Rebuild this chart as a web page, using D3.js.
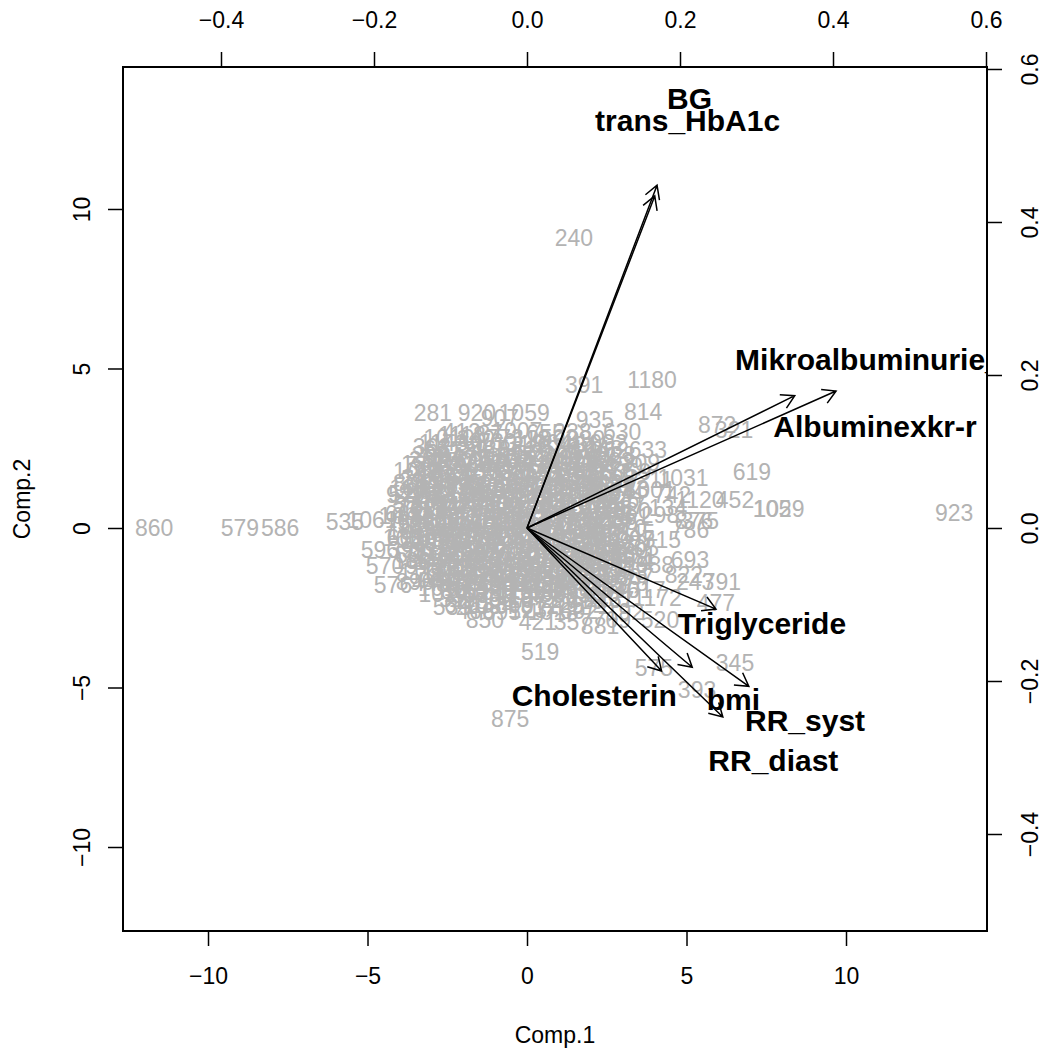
<!DOCTYPE html>
<html>
<head>
<meta charset="utf-8">
<script src="https://cdn.jsdelivr.net/npm/d3@7"></script>
<style>
    body { margin: 0; background: #fff; }
    svg { display: block; font-family: "Liberation Sans", Arial, Helvetica, sans-serif; }
</style>
</head>
<body>
<script>
// PCA biplot ~ scores (gray ids) + loadings (arrows)

// tick values for the two coordinate systems:
var scoreTicks = [-10, -5, 0, 5, 10];
var loadTicks = [-0.4, -0.2, 0.0, 0.2, 0.4, 0.6];

// variables -> arrow tips + label spots (loading units):
var varNames = ["BG", "trans_HbA1c", "Mikroalbuminurie_ja", "Albuminexkr-r", "Triglyceride",
                "Cholesterin", "bmi", "RR_syst", "RR_diast"];
var arrowX = [0.170, 0.167, 0.404, 0.350, 0.247, 0.176, 0.216, 0.290, 0.256];
var arrowY = [0.448, 0.434, 0.179, 0.173, -0.106, -0.187, -0.182, -0.207, -0.247];
var labelX = [0.183, 0.089, 0.272, 0.322, 0.197, -0.020, 0.235, 0.285, 0.237];
var labelY = [0.562, 0.533, 0.221, 0.133, -0.125, -0.218, -0.224, -0.251, -0.303];

// readable scores: [id, Comp.1, Comp.2]
var outerScores = [
    [860, -11.69, 0.00], [579, -9.00, 0.00], [586, -7.74, 0.00], [535, -5.71, 0.19],
    [1061, -4.86, 0.25], [661, -3.86, 0.44], [160, -3.92, -0.31], [596, -4.61, -0.69],
    [570, -4.45, -1.19], [576, -4.20, -1.79], [890, -3.51, -1.69], [941, -3.82, 1.03],
    [293, -3.42, 1.47], [185, -3.35, 2.01], [362, -2.98, 2.54], [1118, -2.04, 2.92],
    [281, -2.95, 3.61], [920, -1.57, 3.61], [1059, -0.09, 3.61], [907, -0.85, 3.45],
    [935, 2.13, 3.39], [630, 2.98, 3.01], [814, 3.64, 3.64], [391, 1.79, 4.48],
    [1180, 3.92, 4.64], [240, 1.47, 9.09], [633, 3.79, 2.45], [872, 5.96, 3.23],
    [321, 6.49, 3.07], [619, 7.05, 1.76], [1031, 4.89, 1.57], [211, 4.01, 1.50],
    [1120, 5.42, 0.88], [452, 6.52, 0.88], [105, 7.68, 0.60], [1029, 7.90, 0.60],
    [923, 13.39, 0.47], [876, 5.24, 0.22], [375, 5.42, 0.22], [742, 4.55, 1.03],
    [134, 4.42, 0.63], [298, 4.17, 0.41], [515, 4.23, -0.38], [693, 5.11, -1.00],
    [822, 4.92, -1.47], [243, 5.27, -1.69], [791, 6.11, -1.69], [1172, 4.08, -2.19],
    [477, 5.92, -2.35], [520, 4.17, -2.88], [881, 2.29, -3.07], [421, 0.34, -2.95],
    [850, -1.32, -2.88], [539, -2.35, -2.48], [519, 0.41, -3.89], [575, 3.98, -4.39],
    [345, 6.52, -4.23], [393, 5.33, -5.08], [875, -0.53, -5.99], [705, 3.54, -0.63],
    [116, 3.23, -1.16], [988, 4.01, -1.16], [1017, 3.54, -1.94], [467, 2.76, -2.26],
    [192, 3.07, -2.63], [709, 2.66, -2.88], [357, 1.44, -2.95], [209, 3.57, 2.04],
    [962, 2.60, 2.45], [1001, 3.86, 1.19], [786, 5.11, -0.06]
];

// the dense middle of the cloud (ids unreadable there, positions estimated):
var coreScores = [
    [412, -2.05, 3.02], [87, -1.15, 2.96], [1007, -0.32, 3.05], [655, 0.58, 2.99], [238, 1.42, 3.03],
    [1143, -2.62, 2.66], [59, -1.78, 2.62], [730, -0.93, 2.69], [318, -0.08, 2.63], [964, 0.81, 2.67],
    [481, 1.66, 2.61], [1092, 2.35, 2.68],
    [205, -3.02, 2.31], [847, -2.18, 2.27], [36, -1.41, 2.33], [1115, -0.52, 2.28], [672, 0.27, 2.32],
    [390, 1.12, 2.26], [549, 1.93, 2.31], [1028, 2.61, 2.29],
    [777, -3.25, 1.97], [130, -2.47, 1.93], [968, -1.69, 1.98], [422, -0.83, 1.92], [1066, 0.02, 1.96],
    [287, 0.88, 1.94], [613, 1.62, 1.99], [94, 2.38, 1.93], [859, 3.04, 1.96],
    [346, -3.33, 1.58], [1004, -2.61, 1.62], [523, -1.87, 1.57], [71, -1.08, 1.63], [905, -0.27, 1.59],
    [444, 0.51, 1.61], [1159, 1.29, 1.58], [260, 2.07, 1.62], [698, 2.83, 1.57],
    [1082, -3.52, 1.27], [177, -2.77, 1.23], [639, -2.03, 1.28], [955, -1.27, 1.22], [302, -0.48, 1.26],
    [817, 0.29, 1.24], [25, 1.03, 1.27], [566, 1.78, 1.22], [1121, 2.57, 1.26], [483, 3.22, 1.23],
    [713, -3.41, 0.88], [64, -2.58, 0.93], [991, -1.82, 0.87], [350, -0.98, 0.92], [804, -0.19, 0.89],
    [152, 0.62, 0.91], [1047, 1.38, 0.87], [507, 2.18, 0.93], [926, 2.93, 0.89],
    [268, -3.63, 0.57], [1135, -2.88, 0.53], [598, -2.12, 0.58], [43, -1.37, 0.52], [887, -0.61, 0.56],
    [326, 0.18, 0.54], [761, 1.02, 0.57], [1019, 1.77, 0.53], [219, 2.52, 0.56], [680, 3.28, 0.54],
    [925, -3.48, 0.18], [108, -2.71, 0.22], [544, -1.93, 0.17], [1168, -1.12, 0.23], [381, -0.32, 0.19],
    [749, 0.47, 0.21], [16, 1.31, 0.18], [862, 2.08, 0.22], [435, 2.88, 0.19],
    [1051, -3.58, -0.13], [292, -2.82, -0.17], [707, -1.98, -0.12], [167, -1.22, -0.18], [983, -0.41, -0.14],
    [512, 0.38, -0.16], [1099, 1.19, -0.13], [241, 2.01, -0.17], [631, 2.72, -0.14], [845, 3.41, -0.16],
    [77, -3.42, -0.52], [936, -2.63, -0.47], [458, -1.79, -0.53], [1107, -1.03, -0.48], [214, -0.22, -0.51],
    [667, 0.61, -0.49], [1003, 1.42, -0.53], [379, 2.19, -0.48], [1138, 3.02, -0.50],
    [599, -3.53, -0.83], [1160, -2.72, -0.88], [253, -1.88, -0.82], [820, -1.13, -0.87], [49, -0.28, -0.84],
    [976, 0.53, -0.86], [405, 1.28, -0.83], [1074, 2.12, -0.88], [186, 2.79, -0.84], [731, 3.47, -0.86],
    [915, -3.22, -1.18], [333, -2.41, -1.23], [1088, -1.58, -1.17], [142, -0.77, -1.22], [658, 0.03, -1.19],
    [1036, 0.79, -1.21], [397, 1.62, -1.18], [863, 2.38, -1.23], [11, 3.12, -1.19],
    [724, -2.93, -1.53], [1125, -2.08, -1.57], [479, -1.32, -1.52], [942, -0.48, -1.58], [201, 0.31, -1.54],
    [616, 1.08, -1.56], [1057, 1.91, -1.53], [368, 2.68, -1.57], [807, 3.38, -1.54],
    [1013, -2.62, -1.88], [155, -1.81, -1.93], [589, -0.97, -1.87], [1150, -0.18, -1.92], [427, 0.63, -1.89],
    [868, 1.42, -1.91], [93, 2.21, -1.87], [646, 2.93, -1.92],
    [311, -2.18, -2.23], [980, -1.41, -2.27], [537, -0.58, -2.22], [1072, 0.22, -2.26], [256, 1.01, -2.24],
    [719, 1.82, -2.27], [1131, 2.58, -2.23],
    [466, -1.62, -2.58], [895, -0.79, -2.62], [123, 0.03, -2.57], [1018, 0.82, -2.61], [602, 1.63, -2.59],
    // in-between rows:
    [1010, -2.45, 2.83], [340, -1.6, 2.8], [773, -0.7, 2.84], [118, 0.15, 2.81], [502, 1.0, 2.83], [939, 1.85, 2.8],
    [66, -2.85, 2.48], [1139, -2.0, 2.45], [425, -1.15, 2.49], [861, -0.3, 2.46], [207, 0.55, 2.48],
    [611, 1.45, 2.45], [1048, 2.2, 2.49],
    [383, -3.1, 2.13], [750, -2.3, 2.1], [19, -1.25, 2.14], [934, -0.4, 2.11], [574, 0.45, 2.13],
    [1164, 1.3, 2.1], [297, 2.0, 2.14], [683, 2.75, 2.11],
    [1089, -3.4, 1.78], [451, -2.9, 1.75], [826, -2.2, 1.79], [137, -1.45, 1.76], [592, -0.6, 1.78],
    [1033, 0.25, 1.75], [264, 1.05, 1.79], [718, 1.85, 1.76], [1176, 2.6, 1.78], [359, 3.3, 1.75],
    [806, -3.6, 1.43], [41, -3.1, 1.4], [494, -2.35, 1.44], [957, -1.6, 1.41], [230, -0.85, 1.43],
    [663, 0.05, 1.4], [1105, 0.85, 1.44], [371, 1.6, 1.41], [842, 2.4, 1.43], [99, 3.0, 1.4],
    [527, -3.75, 1.08], [989, -3.0, 1.05], [312, -2.3, 1.09], [745, -1.55, 1.06], [1062, -0.75, 1.08],
    [178, 0.05, 1.05], [620, 0.8, 1.09], [1117, 1.6, 1.06], [436, 2.35, 1.08], [874, 3.05, 1.05],
    [57, -3.8, 0.73], [501, -3.05, 0.7], [948, -2.3, 0.74], [273, -1.6, 0.71], [702, -0.8, 0.73],
    [1126, 0.0, 0.7], [398, 0.8, 0.74], [831, 1.55, 0.71], [146, 2.35, 0.73], [587, 3.1, 0.7],
    [1042, -3.85, 0.38], [323, -3.1, 0.35], [767, -2.3, 0.39], [1179, -1.5, 0.36], [453, -0.7, 0.38],
    [893, 0.1, 0.35], [206, 0.9, 0.39], [642, 1.7, 0.36], [1078, 2.5, 0.38], [361, 3.25, 0.35],
    [798, -3.85, 0.03], [28, -3.1, 0.0], [470, -2.3, 0.04], [919, -1.55, 0.01], [248, -0.75, 0.03],
    [689, 0.1, 0.0], [1114, 0.9, 0.04], [414, 1.65, 0.01], [853, 2.45, 0.03], [170, 3.15, 0.0],
    [605, -3.8, -0.32], [1055, -3.0, -0.35], [335, -2.2, -0.31], [779, -1.45, -0.34], [1170, -0.65, -0.32],
    [486, 0.15, -0.35], [909, 0.95, -0.31], [226, 1.75, -0.34], [651, 2.45, -0.32], [1097, 3.2, -0.35],
    [399, -3.75, -0.67], [834, -3.0, -0.7], [125, -2.25, -0.66], [562, -1.45, -0.69], [1008, -0.65, -0.67],
    [289, 0.15, -0.7], [735, 0.95, -0.66], [1148, 1.75, -0.69], [443, 2.5, -0.67], [880, 3.2, -0.7],
    [183, -3.6, -1.02], [627, -2.85, -1.05], [1065, -2.1, -1.01], [354, -1.3, -1.04], [789, -0.5, -1.02],
    [1177, 0.3, -1.05], [462, 1.1, -1.01], [911, 1.9, -1.04], [239, 2.6, -1.02], [674, 3.35, -1.05],
    [1111, -3.3, -1.37], [396, -2.55, -1.4], [839, -1.75, -1.36], [161, -0.95, -1.39], [603, -0.15, -1.37],
    [1044, 0.65, -1.4], [325, 1.45, -1.36], [770, 2.25, -1.39], [1163, 3.0, -1.37],
    [448, -3.0, -1.72], [897, -2.25, -1.75], [222, -1.45, -1.71], [668, -0.6, -1.74], [1101, 0.2, -1.72],
    [384, 1.0, -1.75], [815, 1.75, -1.71], [133, 2.55, -1.74], [578, 3.2, -1.72],
    [1027, -2.6, -2.07], [303, -1.8, -2.1], [752, -1.0, -2.06], [1153, -0.2, -2.09], [438, 0.6, -2.07],
    [883, 1.4, -2.1], [196, 2.3, -2.06],
    [641, -2.0, -2.42], [1084, -1.2, -2.45], [366, -0.4, -2.41], [812, 0.4, -2.44], [129, 1.2, -2.42],
    [571, 2.0, -2.45],
    // thickest part:
    [944, -2.6, 2.19], [275, -1.75, 2.16], [717, -0.9, 2.2], [1132, -0.05, 2.17], [409, 0.8, 2.19], [858, 1.65, 2.16],
    [172, -3.0, 1.71], [609, -2.15, 1.68], [1050, -1.3, 1.72], [330, -0.45, 1.69], [776, 0.4, 1.71],
    [1167, 1.25, 1.68], [455, 2.1, 1.72],
    [901, -3.2, 1.16], [218, -2.35, 1.13], [660, -1.5, 1.17], [1094, -0.65, 1.14], [378, 0.2, 1.16],
    [823, 1.05, 1.13], [141, 1.9, 1.17], [584, 2.75, 1.14],
    [1022, -3.25, 0.63], [307, -2.4, 0.6], [754, -1.55, 0.64], [1146, -0.7, 0.61], [430, 0.15, 0.63],
    [877, 1.0, 0.6], [190, 1.85, 0.64], [636, 2.7, 0.61],
    [1070, -3.3, 0.09], [352, -2.45, 0.06], [796, -1.6, 0.1], [1175, -0.75, 0.07], [473, 0.1, 0.09],
    [917, 0.95, 0.06], [234, 1.8, 0.1], [677, 2.65, 0.07],
    [1103, -3.2, -0.41], [389, -2.35, -0.44], [828, -1.5, -0.4], [149, -0.65, -0.43], [593, 0.2, -0.41],
    [1039, 1.05, -0.44], [316, 1.9, -0.4], [759, 2.7, -0.43],
    [1157, -3.1, -0.96], [441, -2.25, -0.99], [885, -1.4, -0.95], [203, -0.55, -0.98], [648, 0.3, -0.96],
    [1081, 1.15, -0.99], [363, 2.0, -0.95], [809, 2.8, -0.98],
    [126, -2.7, -1.46], [567, -1.85, -1.49], [1015, -1.0, -1.45], [295, -0.15, -1.48], [740, 0.7, -1.46],
    [1129, 1.55, -1.49], [417, 2.4, -1.45],
    [866, -2.1, -1.97], [181, -1.25, -2.0], [625, -0.4, -1.96], [1063, 0.45, -1.99], [343, 1.3, -1.97],
    [1171, -2.2, 2.04], [262, -1.35, 2.01], [703, -0.5, 2.05], [1124, 0.35, 2.02], [411, 1.2, 2.04], [852, 2.05, 2.01],
    [187, -2.8, 1.36], [628, -1.95, 1.33], [1069, -1.1, 1.37], [347, -0.25, 1.34], [788, 0.6, 1.36],
    [1174, 1.45, 1.33], [463, 2.3, 1.37],
    [908, -2.85, 0.81], [225, -2.0, 0.78], [669, -1.15, 0.82], [1091, -0.3, 0.79], [372, 0.55, 0.81],
    [816, 1.4, 0.78], [139, 2.25, 0.82],
    [1034, -2.9, 0.29], [314, -2.05, 0.26], [758, -1.2, 0.3], [1145, -0.35, 0.27], [432, 0.5, 0.29],
    [873, 1.35, 0.26], [191, 2.2, 0.3],
    [1076, -2.8, -0.24], [358, -1.95, -0.27], [799, -1.1, -0.23], [1173, -0.25, -0.26], [476, 0.6, -0.24],
    [918, 1.45, -0.27], [235, 2.3, -0.23],
    [1106, -2.75, -0.77], [392, -1.9, -0.8], [830, -1.05, -0.76], [150, -0.2, -0.79], [595, 0.65, -0.77],
    [1040, 1.5, -0.8], [317, 2.35, -0.76],
    [760, -2.3, -1.24], [1158, -1.45, -1.27], [442, -0.6, -1.23], [886, 0.25, -1.26], [204, 1.1, -1.24],
    [649, 1.95, -1.27],
    [1083, -1.85, -1.69], [364, -1.0, -1.72], [810, -0.15, -1.68], [127, 0.7, -1.71], [568, 1.55, -1.69]
];

(function () {

    // frame:
    var width = 1045,
        height = 1051,
        plotLeft = 123,
        plotRight = 987,
        plotTop = 67,
        plotBottom = 931;

    var svg = d3.select("body")
        .append("svg")
        .attr("width", width)
        .attr("height", height);

    // scores on bottom/left, loadings on top/right (same origin):
    var x = d3.scaleLinear().domain([-12.665, 14.42]).range([plotLeft, plotRight]);
    var y = d3.scaleLinear().domain([-12.633, 14.451]).range([plotBottom, plotTop]);
    var xl = d3.scaleLinear().domain([-0.5281, 0.6013]).range([plotLeft, plotRight]);
    var yl = d3.scaleLinear().domain([-0.5268, 0.6026]).range([plotBottom, plotTop]);

    // clip everything inside the box:
    svg.append("clipPath")
        .attr("id", "plotClip")
        .append("rect")
        .attr("x", plotLeft)
        .attr("y", plotTop)
        .attr("width", plotRight - plotLeft)
        .attr("height", plotBottom - plotTop);

    var inner = svg.append("g").attr("clip-path", "url(#plotClip)");

    // gray observation ids:
    inner.selectAll(".obs")
        .data(coreScores.concat(outerScores))
        .enter()
        .append("text")
        .attr("class", "obs")
        .attr("x", function (d) { return x(d[1]); })
        .attr("y", function (d) { return y(d[2]); })
        .attr("dy", "0.36em")
        .attr("text-anchor", "middle")
        .attr("font-size", 23)
        .attr("fill", "#b3b3b3")
        .text(function (d) { return d[0]; });

    // loading arrows w/ open heads:
    var ox = xl(0),
        oy = yl(0),
        headLen = 15,
        headAng = Math.PI / 6;

    inner.selectAll(".arrow")
        .data(varNames)
        .enter()
        .append("path")
        .attr("class", "arrow")
        .attr("d", function (d, i) {
            var tx = xl(arrowX[i]),
                ty = yl(arrowY[i]),
                a = Math.atan2(ty - oy, tx - ox);
            return "M" + ox + "," + oy + "L" + tx + "," + ty +
                "M" + (tx - headLen * Math.cos(a - headAng)) + "," + (ty - headLen * Math.sin(a - headAng)) +
                "L" + tx + "," + ty +
                "L" + (tx - headLen * Math.cos(a + headAng)) + "," + (ty - headLen * Math.sin(a + headAng));
        })
        .attr("fill", "none")
        .attr("stroke", "#000")
        .attr("stroke-width", 1.5);

    // variable names:
    inner.selectAll(".varLabel")
        .data(varNames)
        .enter()
        .append("text")
        .attr("class", "varLabel")
        .attr("x", function (d, i) { return xl(labelX[i]); })
        .attr("y", function (d, i) { return yl(labelY[i]); })
        .attr("dy", "0.36em")
        .attr("font-size", 30)
        .attr("font-weight", "bold")
        .attr("fill", "#000")
        .text(function (d) { return d; });

    // axes:
    var fmtScore = d3.format("d"),
        fmtLoad = d3.format(".1f");

    function styleAxis(g) {
        g.select(".domain").remove();
        g.attr("font-size", 23).attr("font-family", null);
        g.selectAll(".tick line").attr("stroke", "#000").attr("stroke-width", 1.5);
        g.selectAll(".tick text").attr("fill", "#000");
    }

    var bottomAxis = svg.append("g")
        .attr("transform", "translate(0," + plotBottom + ")")
        .call(d3.axisBottom(x).tickValues(scoreTicks).tickFormat(fmtScore).tickSize(15).tickSizeOuter(0))
        .call(styleAxis);
    bottomAxis.selectAll(".tick text").attr("y", 37).attr("dy", "0.71em");

    var topAxis = svg.append("g")
        .attr("transform", "translate(0," + plotTop + ")")
        .call(d3.axisTop(xl).tickValues(loadTicks).tickFormat(fmtLoad).tickSize(15).tickSizeOuter(0))
        .call(styleAxis);
    topAxis.selectAll(".tick text").attr("y", -39).attr("dy", 0);

    var leftAxis = svg.append("g")
        .attr("transform", "translate(" + plotLeft + ",0)")
        .call(d3.axisLeft(y).tickValues(scoreTicks).tickFormat(fmtScore).tickSize(15).tickSizeOuter(0))
        .call(styleAxis);
    leftAxis.selectAll(".tick text")
        .attr("x", 0).attr("y", 0).attr("dy", 0)
        .attr("text-anchor", "middle")
        .attr("transform", "translate(-33,0) rotate(-90)");

    var rightAxis = svg.append("g")
        .attr("transform", "translate(" + plotRight + ",0)")
        .call(d3.axisRight(yl).tickValues(loadTicks).tickFormat(fmtLoad).tickSize(15).tickSizeOuter(0))
        .call(styleAxis);
    rightAxis.selectAll(".tick text")
        .attr("x", 0).attr("y", 0).attr("dy", 0)
        .attr("text-anchor", "middle")
        .attr("transform", "translate(51,0) rotate(-90)");

    // axis titles:
    svg.append("text")
        .attr("x", (plotLeft + plotRight) / 2)
        .attr("y", 1043)
        .attr("text-anchor", "middle")
        .attr("font-size", 23)
        .text("Comp.1");

    svg.append("text")
        .attr("transform", "translate(30," + (plotTop + plotBottom) / 2 + ") rotate(-90)")
        .attr("text-anchor", "middle")
        .attr("font-size", 23)
        .text("Comp.2");

    // box round the plot:
    svg.append("rect")
        .attr("x", plotLeft)
        .attr("y", plotTop)
        .attr("width", plotRight - plotLeft)
        .attr("height", plotBottom - plotTop)
        .attr("fill", "none")
        .attr("stroke", "#000")
        .attr("stroke-width", 2);

})();
</script>
</body>
</html>
